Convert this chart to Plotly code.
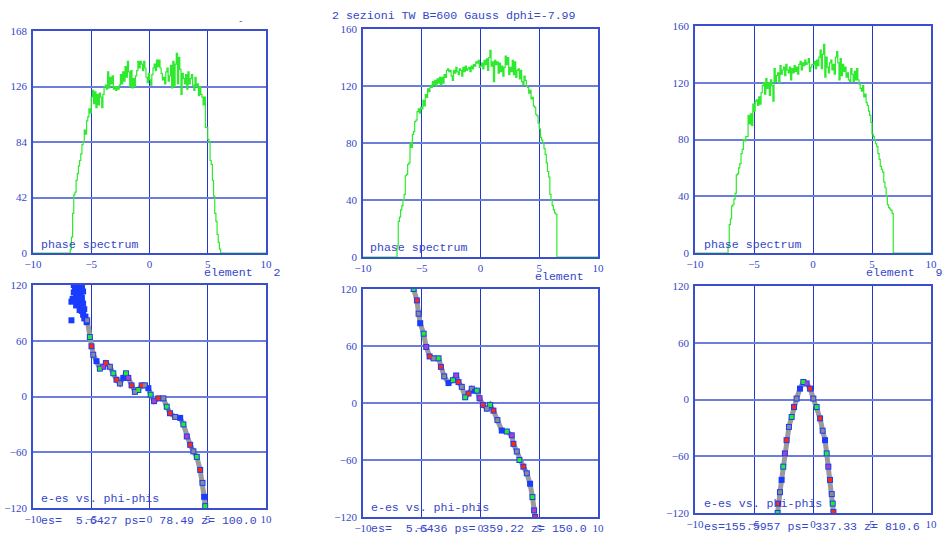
import plotly.graph_objects as go

# ---------------- data ----------------
bin_w = 0.1

# top-left phase spectrum (element 2)
tl_start = -6.8
tl_counts = [3, 12, 30, 44, 46, 55, 60, 66, 70, 75, 82, 84, 93, 90, 100, 103, 109, 106, 118, 123,
             113, 122, 110, 120, 112, 121, 118, 110, 120, 126, 127, 124, 137, 125, 133, 128, 134, 124, 126, 123,
             126, 124, 127, 135, 128, 137, 130, 141, 133, 145, 137, 126, 138, 125, 132, 126, 134, 138, 145, 140,
             145, 143, 138, 145, 140, 133, 129, 136, 131, 127, 135, 140, 143, 138, 146, 141, 146, 140, 136, 131,
             133, 128, 137, 140, 130, 134, 142, 125, 145, 126, 143, 151, 128, 148, 139, 120, 136, 132, 128, 135,
             124, 137, 128, 132, 135, 127, 123, 133, 126, 128, 119, 126, 120, 118, 112, 118, 95, 95, 86, 84,
             70, 67, 55, 43, 30, 24, 14, 8, 3]

# top-middle phase spectrum
tm_start = -7.1
tm_counts = [8, 25, 28, 33, 36, 40, 44, 57, 58, 65, 66, 80, 77, 86, 88, 95, 96, 102, 104, 101,
             105, 104, 110, 106, 114, 112, 118, 116, 120, 119, 123, 121, 124, 120, 125, 122, 126, 121, 126, 122,
             128, 126, 131, 132, 130, 131, 127, 124, 131, 129, 133, 130, 128, 132, 131, 127, 133, 130, 134, 131,
             132, 133, 130, 134, 132, 135, 134, 137, 136, 138, 133, 134, 136, 132, 138, 135, 139, 131, 140, 145,
             134, 137, 123, 138, 135, 137, 129, 136, 130, 134, 127, 133, 141, 135, 140, 128, 133, 130, 138, 128,
             137, 126, 131, 132, 125, 131, 123, 121, 127, 124, 120, 119, 115, 117, 111, 112, 106, 105, 100, 99,
             94, 90, 84, 82, 80, 76, 72, 66, 60, 56, 44, 40, 36, 33, 31, 30]

# top-right phase spectrum (element 9)
tr_start = -7.2
tr_counts = [5, 20, 24, 33, 34, 38, 42, 55, 56, 60, 63, 70, 73, 80, 79, 82, 82, 97, 91, 98,
             90, 105, 100, 107, 108, 104, 110, 105, 113, 118, 120, 112, 123, 116, 120, 111, 122, 118, 107, 130,
             121, 125, 127, 120, 132, 126, 129, 131, 125, 133, 129, 127, 131, 122, 130, 127, 132, 128, 131, 126,
             133, 135, 129, 134, 132, 136, 133, 134, 137, 128, 131, 133, 133, 135, 130, 136, 132, 138, 143, 130,
             140, 147, 124, 138, 131, 127, 134, 136, 129, 133, 126, 138, 142, 134, 122, 137, 125, 133, 128, 131,
             124, 127, 122, 121, 130, 126, 121, 128, 122, 130, 122, 119, 116, 114, 118, 110, 112, 106, 104, 100,
             97, 92, 84, 82, 80, 77, 75, 70, 66, 61, 59, 57, 50, 46, 40, 34, 32, 31, 30, 28]

# bottom-left e-es vs phi-phis (z=100)
bl_x = [-6.5, -6.3, -6.1, -5.9, -6.4, -6.2, -6.0, -5.8, -6.5, -6.3, -6.1, -5.9, -5.7, -6.6, -6.4, -6.2,
        -6.0, -5.8, -6.7, -6.3, -6.1, -5.9, -5.7, -6.0, -5.8, -5.6, -5.7, -5.5, -6.7, -5.4, -5.6,
        -5.35, -5.12, -4.98, -4.83, -4.55, -4.26, -3.97, -3.74, -3.4, -3.11, -2.83, -2.54, -2.25, -2.02,
        -1.82, -1.54, -1.25, -0.96, -0.67, -0.39, -0.1, 0.1, 0.39, 0.76, 1.19, 1.48, 1.76, 2.2, 2.63,
        2.91, 3.2, 3.49, 3.77, 4.06, 4.35, 4.55, 4.69, 4.78]
bl_y = [120, 120, 120, 120, 116, 117, 116, 118, 112, 110, 111, 112, 113, 105, 104, 106,
        104, 106, 102, 98, 99, 98, 100, 93, 92, 94, 88, 86, 82, 80, 84,
        82, 64, 54, 45, 38, 30, 32, 36, 32, 25, 18, 14, 20, 25,
        20, 12, 5, 7, 12, 12, 9, 2, -5, -2, -2, -11, -18, -22, -23,
        -30, -43, -52, -59, -65, -79, -93, -108, -118]

# bottom-middle (z=150)
bm_x = [-5.69, -5.41, -5.27, -5.13, -4.84, -4.62, -4.33, -3.99, -3.57, -3.37, -3.09, -2.72, -2.35,
        -2.07, -1.87, -1.59, -1.3, -1.02, -0.74, -0.54, -0.31, -0.08, 0.2, 0.54, 0.82, 1.1, 1.44, 1.81,
        2.24, 2.66, 2.8, 3.09, 3.31, 3.65, 3.94, 4.22, 4.42, 4.56, 4.65]
bm_y = [120, 108, 94, 84, 73, 59, 49, 47, 47, 38, 28, 21, 24,
        29, 22, 17, 6, 10, 15, 13, 13, 5, -2, -6, -2, -8, -18, -29,
        -30, -34, -43, -51, -60, -67, -74, -85, -99, -113, -120]

# bottom-right (z=810.6)
br_x = [-3.0, -2.95, -2.8, -2.66, -2.52, -2.38, -2.24, -2.04, -1.81, -1.61, -1.39, -1.1, -0.82,
        -0.54, -0.25, 0.03, 0.31, 0.6, 0.82, 1.02, 1.16, 1.3, 1.44, 1.59, 1.67, 1.73]
br_y = [-120, -110, -98, -85, -71, -57, -43, -29, -18.5, -8, 1, 11.5, 18.5,
        17, 11.5, 1, -8, -20, -33, -43, -57, -71, -85, -100, -110, -119]

title_text = "2 sezioni TW B=600 Gauss dphi=-7.99"
top_label = "phase spectrum"
bottom_label = "e-es vs. phi-phis"
element_labels = ["element   2", "element", "element   9"]
info_labels = ["es=  5.6427 ps=  78.49 z= 100.0",
               "es=  5.6436 ps= 359.22 z= 150.0",
               "es=155.5957 ps= 337.33 z= 810.6"]
top_ticks = [[0, 42, 84, 126, 168], [0, 40, 80, 120, 160], [0, 40, 80, 120, 160]]
bottom_ticks = [-120, -60, 0, 60, 120]
x_ticks = [-10, -5, 0, 5, 10]

# ---------------- layout ----------------
W, H = 943, 540
boxes = [  # (x0, x1, y0, y1) in pixels, y from top
    (33, 266, 31, 253), (363, 598, 29, 257), (695, 931, 26, 253),
    (33, 266, 285, 508), (363, 598, 289, 517), (695, 931, 286, 513),
]
BLUE_TXT = "#3447c8"
GRID_V = "#2236c8"
GRID_H = "#6d7ddc"
GREEN = "#2eea2e"
MONO = "Liberation Mono"
SERIF = "Liberation Serif"

fig = go.Figure()


def ax_name(i, kind):
    return kind if i == 0 else f"{kind}{i+1}"


for i, (x0, x1, y0, y1) in enumerate(boxes):
    xa = "xaxis" if i == 0 else f"xaxis{i+1}"
    ya = "yaxis" if i == 0 else f"yaxis{i+1}"
    if i < 3:
        tv = top_ticks[i]
        yr = [tv[0], tv[-1]]
    else:
        tv = bottom_ticks
        yr = [-120, 120]
    fig.layout[xa] = dict(domain=[x0 / W, x1 / W], range=[-10, 10], tickvals=x_ticks, automargin=False,
                          anchor=ax_name(i, "y"), showgrid=True, gridcolor=GRID_V, gridwidth=1,
                          zeroline=False, showline=True, linecolor="#3a4ed0", linewidth=1.5, mirror=True,
                          ticks="", ticklabelstandoff=0,
                          tickfont=dict(family=SERIF, size=11, color=BLUE_TXT), fixedrange=True)
    fig.layout[ya] = dict(domain=[1 - y1 / H, 1 - y0 / H], range=yr, tickvals=tv, automargin=False,
                          anchor=ax_name(i, "x"), showgrid=True, gridcolor=GRID_H, gridwidth=2,
                          zeroline=False, showline=True, linecolor="#3a4ed0", linewidth=1.5, mirror=True,
                          ticks="", ticklabelstandoff=2,
                          tickfont=dict(family=SERIF, size=11, color=BLUE_TXT), fixedrange=True)


def hist_xy(start, counts):
    xs = [-10] + [start + k * bin_w for k in range(len(counts))] + [start + len(counts) * bin_w, 10]
    ys = [0] + counts + [0, 0]
    return xs, ys


for i, (st, cnt) in enumerate([(tl_start, tl_counts), (tm_start, tm_counts), (tr_start, tr_counts)]):
    xs, ys = hist_xy(st, cnt)
    fig.add_trace(go.Scatter(x=xs, y=ys, mode="lines", line=dict(color=GREEN, width=1.2, shape="hv"),
                             xaxis=ax_name(i, "x"), yaxis=ax_name(i, "y"), hoverinfo="skip"))

cycle = ["#22ee22", "#ff2a10", "#8c8c8c", "#1a3cff", "#22ee22", "#b040c0", "#ff2a10", "#8c8c8c"]
for j, (px, py) in enumerate([(bl_x, bl_y), (bm_x, bm_y), (br_x, br_y)]):
    i = j + 3
    xa, ya = ax_name(i, "x"), ax_name(i, "y")
    start_line = 31 if j == 0 else 0
    fig.add_trace(go.Scatter(x=px[start_line:], y=py[start_line:], mode="lines",
                             line=dict(color="#9a9a9a", width=5), xaxis=xa, yaxis=ya, hoverinfo="skip"))
    fig.add_trace(go.Scatter(x=px, y=py, mode="markers",
                             marker=dict(symbol="square", size=6, color="#1a3cff", line=dict(width=0)),
                             xaxis=xa, yaxis=ya, hoverinfo="skip"))
    cols = [("#1a3cff" if (j == 0 and k < 31) else cycle[k % len(cycle)]) for k in range(len(px))]
    fig.add_trace(go.Scatter(x=px, y=py, mode="markers",
                             marker=dict(symbol="square", size=4, color=cols, line=dict(width=0)),
                             xaxis=xa, yaxis=ya, hoverinfo="skip"))

ann = []


def txt(s, x, y, size=11.6):
    ann.append(dict(text=s, x=x / W, y=1 - y / H, xref="paper", yref="paper", xanchor="left",
                    yanchor="middle", showarrow=False, font=dict(family=MONO, size=size, color=BLUE_TXT)))


txt(title_text, 330, 15)
txt("-", 236, 22, 9)
txt(top_label, 39, 244)
txt(top_label, 368, 247)
txt(top_label, 702, 244)
txt(element_labels[0], 202, 272)
txt(element_labels[1], 533, 276)
txt(element_labels[2], 864, 272)
txt(bottom_label, 39, 498)
txt(bottom_label, 369, 507)
txt(bottom_label, 702, 503)
txt(info_labels[0], 39, 520)
txt(info_labels[1], 369, 528)
txt(info_labels[2], 702, 526)

fig.update_layout(width=W, height=H, margin=dict(l=0, r=0, t=0, b=0, autoexpand=False),
                  paper_bgcolor="white", plot_bgcolor="white", showlegend=False, annotations=ann)
fig.write_html("out.html", config={"displayModeBar": False},
               post_script="document.body.style.margin='0';document.body.style.overflow='hidden';")
